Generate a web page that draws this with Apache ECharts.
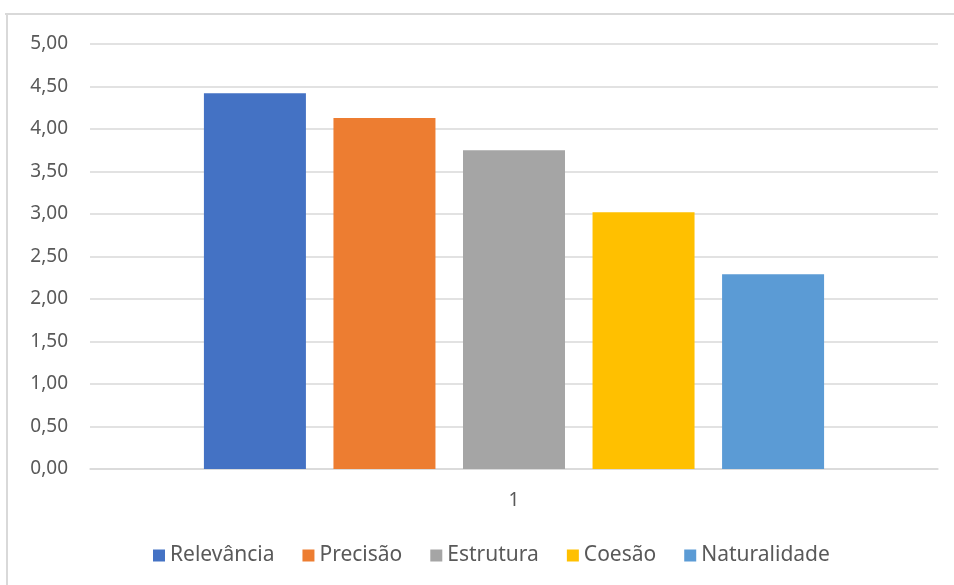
<!DOCTYPE html>
<html>
<head>
<meta charset="utf-8">
<script src="https://cdn.jsdelivr.net/npm/echarts@6/dist/echarts.min.js"></script>
<style>
html,body{margin:0;padding:0;background:#fff;}
#chart{width:954px;height:585px;}
</style>
</head>
<body>
<div id="chart"></div>
<script>
var categories = ['1'];
var seriesNames = ['Relevância', 'Precisão', 'Estrutura', 'Coesão', 'Naturalidade'];
var seriesValues = [4.42, 4.13, 3.75, 3.02, 2.29];
var colors = ['#4472C4', '#ED7D31', '#A5A5A5', '#FFC000', '#5B9BD5'];

var txt = '#595959';
var fnt = 'Noto Sans';

var series = seriesNames.map(function (name, i) {
    return {
        name: name,
        type: 'bar',
        barWidth: 102,
        barGap: '27%',
        itemStyle: { color: colors[i] },
        data: [seriesValues[i]]
    };
});

var option = {
    animation: false,
    color: colors,
    textStyle: { fontFamily: fnt },
    grid: { left: 90, right: 16, top: 44, bottom: 116 },
    graphic: [
        { type: 'line', shape: { x1: 5, y1: 14, x2: 954, y2: 14 }, style: { stroke: '#d9d9d9', lineWidth: 2 } },
        { type: 'line', shape: { x1: 7, y1: 14, x2: 7, y2: 585 }, style: { stroke: '#d9d9d9', lineWidth: 2 } }
    ],
    legend: {
        bottom: 14,
        left: 148,
        itemWidth: 12,
        itemHeight: 12,
        itemGap: 28,
        icon: 'rect',
        textStyle: { color: txt, fontSize: 21, fontFamily: fnt },
        data: seriesNames
    },
    xAxis: {
        type: 'category',
        data: categories,
        axisTick: { show: false },
        axisLine: { lineStyle: { color: '#d9d9d9', width: 1.5 } },
        axisLabel: { color: txt, fontSize: 19, margin: 22, fontFamily: fnt }
    },
    yAxis: {
        type: 'value',
        min: 0,
        max: 5,
        interval: 0.5,
        axisLine: { show: false },
        axisTick: { show: false },
        splitLine: { lineStyle: { color: '#d9d9d9', width: 1.5 } },
        axisLabel: {
            color: txt,
            fontSize: 19,
            margin: 22,
            fontFamily: fnt,
            formatter: function (v) { return v.toFixed(2).replace('.', ','); }
        }
    },
    series: series
};

var chart = echarts.init(document.getElementById('chart'));
chart.setOption(option);
</script>
</body>
</html>
